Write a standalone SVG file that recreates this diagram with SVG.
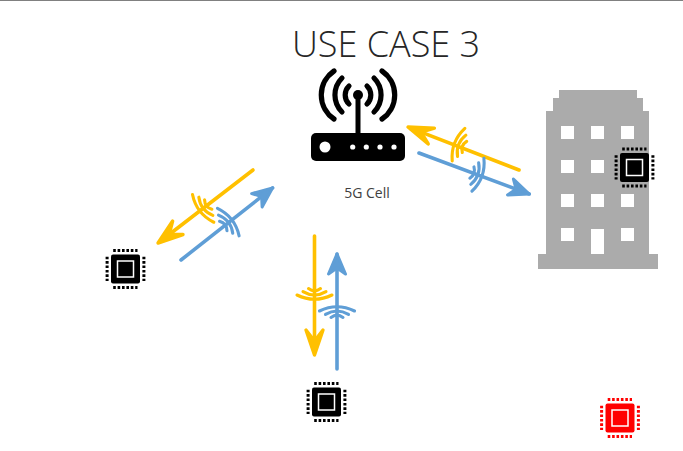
<svg xmlns="http://www.w3.org/2000/svg" xmlns:xlink="http://www.w3.org/1999/xlink" width="683" height="451" viewBox="0 0 683 451">
  <style>
    .yl { stroke: #ffc000; }
    .bl { stroke: #5f9ed6; }
    .link { fill: none; stroke-width: 3.6; stroke-linecap: round; }
    .arc { fill: none; stroke-width: 3.1; stroke-linecap: round; }
    .radio { fill: none; stroke: #000; stroke-linecap: round; }
    .bld { fill: #ababab; }
    .win { fill: #fff; }
  </style>
  <defs>
    <marker id="headY" markerUnits="userSpaceOnUse" viewBox="-32 -14 38 28" refX="-3" refY="0" markerWidth="38" markerHeight="28" orient="auto">
      <path d="M-25,-8.5 L0,0 L-25,8.5 L-14,0 Z" fill="#ffc000" stroke="#ffc000" stroke-width="3.4" stroke-linejoin="round"/>
    </marker>
    <marker id="headB" markerUnits="userSpaceOnUse" viewBox="-32 -14 38 28" refX="-3" refY="0" markerWidth="38" markerHeight="28" orient="auto">
      <path d="M-23,-8.5 L-3,0 L-23,8.5 L-17,0 Z" fill="#5f9ed6" stroke="#5f9ed6" stroke-width="3" stroke-linejoin="round"/>
    </marker>
    <g id="fan">
      <path class="arc" d="M-17.5,-8 Q0,-16.5 17.5,-8"/>
      <path class="arc" d="M-11.5,-4.6 Q0,-11.4 11.5,-4.6"/>
      <path class="arc" d="M-6,-1.6 Q0,-6 6,-1.6"/>
    </g>
    <g id="chip">
      <rect x="-14.5" y="-14.5" width="29" height="29" rx="2" fill="currentColor"/>
      <rect x="-8" y="-8" width="16" height="16" fill="none" stroke="#fff" stroke-width="1.5"/>
      <g fill="none" stroke="currentColor" stroke-width="3" stroke-dasharray="2.6 1.8">
        <path d="M-12.3,-18.4 H12"/>
        <path d="M-12.3,18.4 H12"/>
        <path d="M-18.4,-12.3 V12"/>
        <path d="M18.4,-12.3 V12"/>
      </g>
    </g>
  </defs>

  <rect width="683" height="1" fill="#808080"/>

  <g id="title">
    <text x="386" y="57" text-anchor="middle" font-family="'Open Sans', 'Liberation Sans', sans-serif" font-weight="300" font-size="36" fill="#262626">USE CASE 3</text>
  </g>

  <g id="cell">
    <path d="M358,96 V135" stroke="#000" stroke-width="5" fill="none"/>
    <circle cx="358" cy="95" r="5"/>
    <rect x="311" y="133" width="94" height="28" rx="5"/>
    <circle cx="325" cy="147" r="5.5" fill="#fff"/>
    <g fill="#fff">
      <circle cx="352.7" cy="147" r="2.6"/>
      <circle cx="366.3" cy="147" r="2.6"/>
      <circle cx="380" cy="147" r="2.6"/>
      <circle cx="394" cy="147" r="2.6"/>
    </g>
    <g class="radio" stroke-width="5.2">
      <path d="M382,71 A29,29 0 0 1 382,119"/>
      <path d="M334,71 A29,29 0 0 0 334,119"/>
      <path d="M374,78 A24,24 0 0 1 374,112"/>
      <path d="M342,78 A24,24 0 0 0 342,112"/>
      <path d="M367,86 A12.5,12.5 0 0 1 367,104"/>
      <path d="M349,86 A12.5,12.5 0 0 0 349,104"/>
    </g>
    <text x="367" y="198" text-anchor="middle" font-family="'Open Sans', 'Liberation Sans', sans-serif" font-size="14" fill="#404040">5G Cell</text>
  </g>

  <g id="building">
    <rect class="bld" x="559" y="90" width="78" height="12"/>
    <rect class="bld" x="553" y="98" width="90" height="16"/>
    <rect class="bld" x="546" y="111" width="103" height="145"/>
    <rect class="bld" x="538" y="254" width="120" height="15"/>
    <rect class="win" x="561" y="126" width="13" height="13"/>
    <rect class="win" x="591" y="126" width="13" height="13"/>
    <rect class="win" x="621" y="126" width="13" height="13"/>
    <rect class="win" x="561" y="160" width="13" height="13"/>
    <rect class="win" x="591" y="160" width="13" height="13"/>
    <rect class="win" x="561" y="194" width="13" height="13"/>
    <rect class="win" x="591" y="194" width="13" height="13"/>
    <rect class="win" x="621" y="194" width="13" height="13"/>
    <rect class="win" x="561" y="228" width="13" height="13"/>
    <rect class="win" x="621" y="228" width="13" height="13"/>
    <rect class="win" x="591" y="229" width="13" height="25"/>
  </g>

  <g id="device-building" color="#000"><use href="#chip" xlink:href="#chip" transform="translate(634.5,167.5)"/></g>
  <g id="device-left" color="#000"><use href="#chip" xlink:href="#chip" transform="translate(125.5,269)"/></g>
  <g id="device-bottom" color="#000"><use href="#chip" xlink:href="#chip" transform="translate(326.5,402)"/></g>
  <g id="device-red" color="#ff0000"><use href="#chip" xlink:href="#chip" transform="translate(620,418)"/></g>

  <g id="connectors">
    <line class="link yl" x1="519" y1="170" x2="410.8" y2="128.1" marker-end="url(#headY)"/>
    <line class="link bl" x1="419" y1="153" x2="529.2" y2="194" marker-end="url(#headB)"/>
    <line class="link yl" x1="253" y1="170" x2="160.4" y2="241.2" marker-end="url(#headY)"/>
    <line class="link bl" x1="181" y1="260" x2="272.6" y2="187.9" marker-end="url(#headB)"/>
    <line class="link yl" x1="314.5" y1="236" x2="314.5" y2="352" marker-end="url(#headY)"/>
    <line class="link bl" x1="337" y1="369" x2="337" y2="254" marker-end="url(#headB)"/>
    <use href="#fan" xlink:href="#fan" class="yl" transform="translate(466,147.5) rotate(-68.8)"/>
    <use href="#fan" xlink:href="#fan" class="bl" transform="translate(470.4,172) rotate(110)"/>
    <use href="#fan" xlink:href="#fan" class="yl" transform="translate(209.5,203.5) rotate(-127.5)"/>
    <use href="#fan" xlink:href="#fan" class="bl" transform="translate(222,227) rotate(51.8)"/>
    <use href="#fan" xlink:href="#fan" class="yl" transform="translate(314.5,287) rotate(180)"/>
    <use href="#fan" xlink:href="#fan" class="bl" transform="translate(337,319)"/>
  </g>
</svg>
